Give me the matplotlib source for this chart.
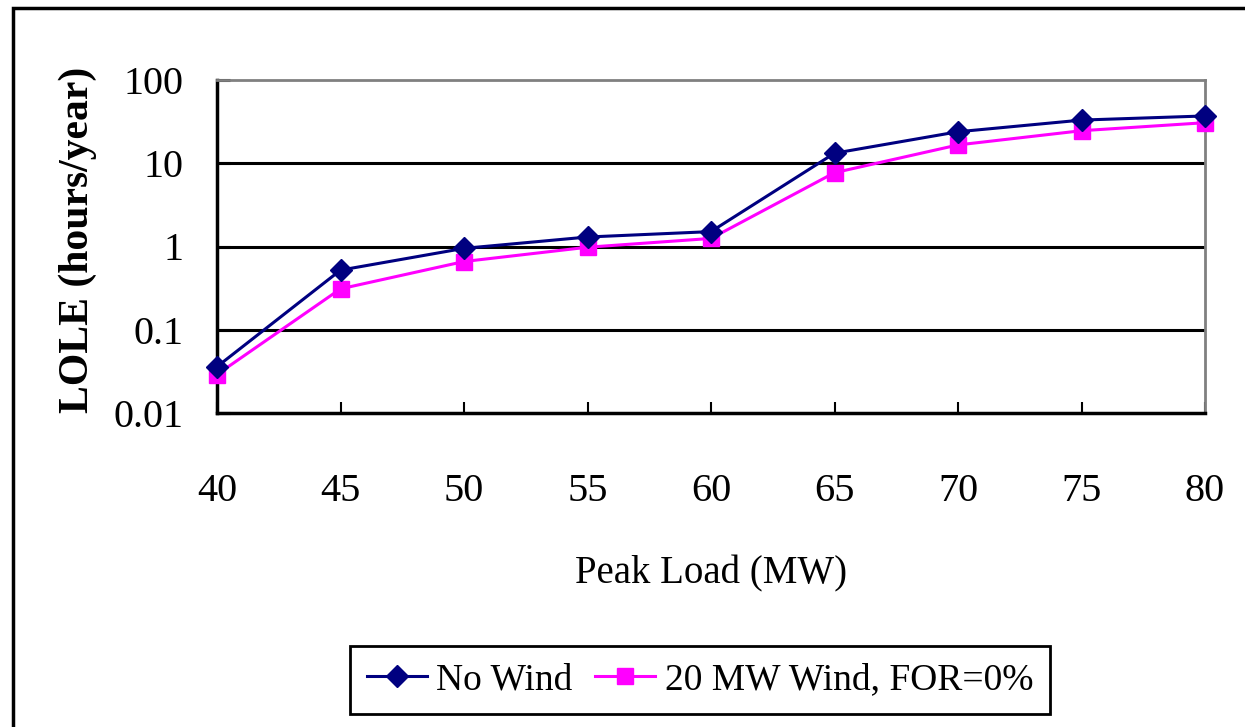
import matplotlib
matplotlib.use("Agg")
import matplotlib.pyplot as plt
from matplotlib.patches import Rectangle
from matplotlib.ticker import FixedLocator, FixedFormatter

# data
peak_load = [40, 45, 50, 55, 60, 65, 70, 75, 80]
lole_no_wind = [0.036, 0.52, 0.95, 1.30, 1.51, 13.2, 23.9, 33.0, 37.0]
lole_wind_20 = [0.029, 0.31, 0.66, 0.98, 1.25, 7.7, 16.6, 24.6, 30.7]
y_ticks = [0.01, 0.1, 1, 10, 100]
y_tick_labels = ["0.01", "0.1", "1", "10", "100"]

plt.rcParams['font.family'] = ['Liberation Serif', 'DejaVu Serif']

fig = plt.figure(figsize=(12.45, 7.27), dpi=100)
ax = fig.add_axes([217 / 1245, 1 - 413 / 727, (1205 - 217) / 1245, (413 - 80) / 727])

ax.plot(peak_load, lole_no_wind, color='#000080', lw=2.2, marker='D',
        markersize=11, label='No Wind', clip_on=False, zorder=4)
ax.plot(peak_load, lole_wind_20, color='#FF00FF', lw=2.2, marker='s',
        markersize=11, label='20 MW Wind, FOR=0%', clip_on=False, zorder=3)

ax.set_yscale('log')
ax.set_ylim(0.01, 100)
ax.set_xlim(40, 80)
ax.yaxis.set_major_locator(FixedLocator(y_ticks))
ax.yaxis.set_major_formatter(FixedFormatter(y_tick_labels))
ax.yaxis.set_minor_locator(FixedLocator([]))
ax.set_xticks(peak_load)

for v in y_ticks[1:-1]:
    ax.axhline(v, color='black', lw=2.2, zorder=1)

ax.tick_params(axis='y', direction='in', length=9, width=2.2, pad=24, labelsize=29)
ax.tick_params(axis='x', direction='in', length=8, width=1.5, pad=43, labelsize=29)

for side in ['left', 'bottom']:
    ax.spines[side].set_color('black')
    ax.spines[side].set_linewidth(2.5)
for side in ['top', 'right']:
    ax.spines[side].set_color('#808080')
    ax.spines[side].set_linewidth(2)

ax.set_xlabel('Peak Load (MW)', fontsize=28, labelpad=33)
ax.set_ylabel('LOLE (hours/year)', fontsize=30, fontweight='bold')
ax.yaxis.label.set_va('center')
ax.yaxis.set_label_coords(-0.141, 0.52)

leg = fig.legend(loc='center', bbox_to_anchor=(700 / 1245, 1 - 680 / 727), ncol=2,
                 fontsize=27, frameon=True, fancybox=False, framealpha=1,
                 handlelength=1.6, handletextpad=0.25, columnspacing=0.6,
                 borderpad=0.45)
leg.get_frame().set_edgecolor('black')
leg.get_frame().set_linewidth(2)

# outer chart border, cut off at the right and bottom like the reference
fig.patches.append(Rectangle((13 / 1245, -0.1), 1.2, 1 - 8 / 727 + 0.1,
                             transform=fig.transFigure, fill=False,
                             edgecolor='black', lw=2.5))

fig.savefig('out.png', dpi=100)
